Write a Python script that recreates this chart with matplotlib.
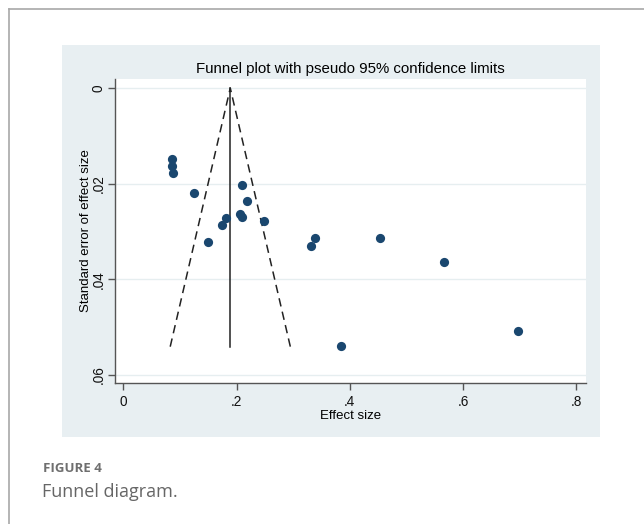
import numpy as np
import matplotlib.pyplot as plt
from matplotlib.patches import Rectangle
from matplotlib.lines import Line2D

plt.rcParams['font.family'] = ['Liberation Sans', 'DejaVu Sans']

# effect sizes and their standard errors
effect = [0.087, 0.087, 0.088, 0.125, 0.209, 0.218, 0.207, 0.210, 0.181,
          0.174, 0.249, 0.150, 0.339, 0.331, 0.384, 0.454, 0.566, 0.697]
se = [0.0148, 0.0163, 0.0177, 0.0219, 0.0203, 0.0237, 0.0263, 0.0269, 0.0271,
      0.0287, 0.0279, 0.0322, 0.0314, 0.0331, 0.0539, 0.0313, 0.0363, 0.0508]

pooled = 0.189
se_max = 0.0541

xticks = [0, 0.2, 0.4, 0.6, 0.8]
xticklabels = ['0', '.2', '.4', '.6', '.8']
yticks = [0, 0.02, 0.04, 0.06]
yticklabels = ['0', '.02', '.04', '.06']

fig = plt.figure(figsize=(6.44, 5.24), dpi=100)

# frame around the figure
fig.add_artist(Line2D([9 / 644, 9 / 644], [0, 1 - 9 / 524], color='#a8a8a8', lw=1.2))
fig.add_artist(Line2D([9 / 644, 1], [1 - 9 / 524, 1 - 9 / 524], color='#a8a8a8', lw=1.2))

# graph background
fig.add_artist(Rectangle((62 / 644, 1 - 437 / 524), 538 / 644, 392 / 524,
                         facecolor='#e8eff2', edgecolor='none', zorder=0))

ax = fig.add_axes([115 / 644, 1 - 383 / 524, 471 / 644, 304 / 524])
ax.set_facecolor('white')

# pseudo 95% confidence limits
lo = pooled - 1.96 * se_max
hi = pooled + 1.96 * se_max
ax.plot([lo, pooled, hi], [se_max, 0, se_max], color='#222222', lw=1.1,
        linestyle=(0, (5.5, 3.5)))
ax.plot([pooled, pooled], [0, se_max], color='#222222', lw=1.1)

ax.scatter(effect, se, s=44, color='#1a476f', zorder=3, linewidths=0)

ax.set_xlim(-0.0145, 0.817)
ax.set_ylim(0.0617, -0.0019)

ax.set_xticks(xticks)
ax.set_xticklabels(xticklabels)
ax.set_yticks(yticks)
ax.set_yticklabels(yticklabels, rotation=90, va='center')
ax.grid(axis='y', color='#e6eef0', lw=1)
ax.set_axisbelow(True)

for side in ['top', 'right']:
    ax.spines[side].set_visible(False)
for side in ['left', 'bottom']:
    ax.spines[side].set_color('#555555')
    ax.spines[side].set_linewidth(1)
ax.tick_params(colors='#555555', labelcolor='#111111', labelsize=9.8,
               length=5, width=1)
ax.tick_params(axis='y', pad=1.5)

ax.set_xlabel('Effect size', fontsize=9.5, labelpad=1)
ax.set_ylabel('Standard error of effect size', fontsize=9.5)
ax.yaxis.set_label_coords(-0.049, 0.5)
ax.set_title('Funnel plot with pseudo 95% confidence limits', fontsize=10.8, pad=4)

fig.text(43 / 644, 1 - 468 / 524, 'FIGURE 4', fontsize=9.5, color='#6f6f6f',
         fontweight='bold', family=['Open Sans', 'DejaVu Sans'], va='center')
fig.text(42 / 644, 1 - 492 / 524, 'Funnel diagram.', fontsize=13, color='#666666',
         family=['Open Sans', 'DejaVu Sans'], va='center')

fig.savefig('out.png', dpi=100)
